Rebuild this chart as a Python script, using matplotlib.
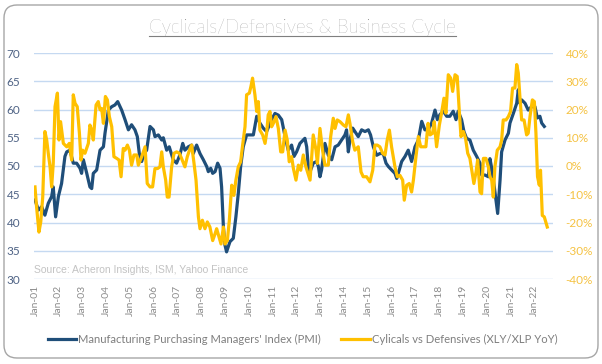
import numpy as np
import matplotlib
matplotlib.use("Agg")
import matplotlib.pyplot as plt
from matplotlib.patches import FancyBboxPatch
from matplotlib.lines import Line2D

plt.rcParams["font.family"] = ["Lato", "DejaVu Sans"]

# --- Data ---
# months since Jan 2001, ISM manufacturing PMI
pmi_month = [0, 1.7, 3.4, 5.0, 6.7, 8.4, 9.2, 10.4, 11.8, 13.4,
             15.1, 16.0, 17.6, 19.3, 21.0, 22.7, 23.5, 24.4, 26.1, 27.7,
             28.6, 29.4, 31.1, 32.8, 34.5, 35.3, 37.0, 38.7, 40.3, 41.7,
             43.7, 45.4, 47.1, 48.7, 50.4, 51.6, 52.6, 53.8, 55.0, 56.3,
             58.0, 59.7, 60.5, 62.2, 63.9, 64.7, 66.4, 67.7, 69.7, 71.4,
             73.1, 74.5, 75.6, 77.3, 79.0, 79.8, 81.5, 83.2, 84.9, 86.6,
             87.4, 88.6, 89.6, 90.8, 92.1, 93.3, 94.1, 95.0, 95.8, 96.6,
             98.3, 100.0, 101.3, 102.5, 103.7, 105.0, 106.7, 108.4, 110.1, 111.8,
             113.4, 115.1, 116.8, 119.3, 121.0, 122.7, 124.4, 126.1, 127.7, 129.4,
             130.6, 131.9, 133.6, 135.3, 136.1, 137.0, 137.8, 138.7, 140.3, 142.0,
             142.9, 143.7, 144.5, 146.2, 147.9, 149.6, 151.3, 152.9, 154.6, 156.3,
             157.1, 158.0, 158.8, 160.2, 161.3, 163.0, 164.7, 166.4, 168.1, 169.2,
             170.6, 172.3, 173.9, 175.6, 177.0, 178.2, 179.8, 181.5, 182.4, 183.2,
             184.9, 186.6, 188.2, 189.9, 191.6, 193.3, 195.0, 196.6, 198.3, 200.0,
             201.7, 202.9, 204.2, 205.9, 207.6, 209.2, 210.9, 212.3, 213.4, 215.1,
             216.3, 217.6, 219.3, 221.0, 222.7, 224.4, 225.2, 226.9, 228.6, 229.4,
             230.3, 231.6, 233.3, 234.5, 235.3, 237.0, 238.7, 239.5, 241.2, 242.9,
             243.7, 244.5, 245.4, 247.1, 248.7, 250.4, 252.1, 253.3, 254.6, 255.5,
             256.8]
pmi_value = [44.0, 42.2, 42.8, 41.3, 43.4, 44.6, 46.3, 41.0, 44.6, 46.9,
             51.7, 52.5, 52.8, 50.5, 50.5, 49.6, 48.7, 51.1, 48.7, 46.3,
             46.0, 48.7, 49.3, 52.8, 53.4, 55.8, 59.9, 60.5, 60.8, 61.4,
             59.9, 58.2, 56.4, 57.3, 56.4, 55.2, 52.2, 50.8, 52.2, 52.8,
             57.0, 56.4, 55.2, 55.5, 54.6, 55.0, 52.8, 53.4, 51.1, 50.5,
             52.0, 54.0, 52.8, 53.4, 53.7, 52.2, 53.7, 52.2, 51.1, 49.9,
             49.0, 49.6, 48.7, 49.0, 50.5, 49.6, 46.3, 39.2, 36.0, 34.8,
             36.6, 37.2, 41.0, 45.1, 49.9, 53.4, 55.5, 55.5, 55.5, 58.8,
             57.6, 56.7, 56.1, 58.2, 59.3, 59.0, 58.2, 55.2, 52.8, 53.7,
             51.7, 52.5, 54.0, 54.6, 54.9, 53.4, 49.9, 49.0, 50.5, 50.8,
             49.9, 48.1, 49.3, 54.0, 51.9, 51.1, 53.4, 53.7, 54.6, 55.5,
             56.4, 52.5, 54.6, 56.7, 56.1, 55.2, 56.4, 56.1, 56.4, 55.5,
             53.4, 51.9, 52.2, 52.2, 50.5, 49.9, 49.3, 48.7, 47.8, 48.7,
             50.8, 51.7, 52.8, 50.8, 53.4, 54.6, 57.9, 56.4, 56.4, 57.6,
             59.9, 58.2, 59.1, 59.7, 58.8, 58.8, 59.7, 58.2, 59.7, 58.2,
             56.1, 54.9, 54.6, 52.8, 51.7, 50.5, 48.4, 48.4, 48.1, 51.3,
             49.6, 46.3, 41.6, 47.5, 52.5, 54.6, 55.8, 57.6, 59.3, 61.1,
             63.5, 61.1, 61.7, 61.1, 59.9, 60.5, 60.5, 58.5, 58.8, 57.6,
             57.0]

# months since Jan 2001, XLY/XLP year-on-year change (%)
cyc_month = [0, 0.8, 2.0, 2.9, 3.9, 5.0, 5.9, 6.7, 7.6, 8.4,
             9.2, 10.1, 11.3, 12.1, 12.9, 14.3, 16.0, 17.3, 18.5, 19.3,
             20.2, 21.3, 22.4, 23.2, 24.0, 25.2, 26.9, 27.7, 28.6, 29.4,
             30.8, 31.9, 32.8, 33.6, 34.5, 35.5, 36.5, 37.5, 38.7, 39.8,
             41.2, 42.4, 43.4, 44.5, 45.4, 46.6, 47.6, 48.7, 49.9, 51.3,
             52.1, 53.8, 55.5, 56.6, 58.0, 59.3, 60.5, 61.8, 63.0, 63.9,
             64.7, 65.9, 66.7, 67.6, 68.9, 70.1, 71.4, 72.8, 73.9, 75.6,
             76.8, 78.2, 79.0, 80.2, 81.2, 82.4, 83.2, 84.4, 85.7, 86.9,
             88.2, 89.6, 90.8, 91.6, 92.8, 93.8, 95.0, 95.8, 97.0, 98.0,
             99.2, 100.3, 101.3, 102.5, 103.7, 104.7, 105.9, 106.7, 108.1, 108.9,
             109.7, 110.9, 111.8, 112.6, 113.4, 114.8, 116.0, 116.8, 117.6, 118.5,
             119.3, 120.2, 121.5, 122.7, 123.9, 124.9, 126.1, 127.2, 128.2, 129.4,
             130.3, 131.6, 132.8, 134.0, 135.3, 136.6, 138.7, 140.3, 141.7, 142.4,
             143.7, 145.0, 146.2, 147.9, 149.1, 150.4, 151.3, 152.4, 153.8, 155.5,
             156.8, 158.0, 158.8, 160.2, 161.3, 163.0, 164.4, 165.5, 167.2, 168.9,
             170.3, 171.4, 172.6, 173.9, 175.3, 176.5, 177.6, 178.7, 179.8, 181.5,
             182.7, 184.0, 185.4, 186.2, 187.4, 188.7, 189.9, 190.8, 192.1, 193.3,
             194.5, 195.8, 197.1, 198.2, 199.2, 200.5, 201.3, 202.5, 203.9, 205.0,
             206.2, 207.2, 208.4, 209.6, 210.6, 211.8, 212.9, 213.9, 214.8, 216.0,
             217.1, 218.2, 219.3, 220.5, 221.3, 222.4, 223.2, 224.4, 225.2, 226.1,
             227.4, 228.6, 229.4, 230.3, 231.1, 231.9, 233.1, 234.5, 235.3, 236.1,
             237.5, 238.7, 239.8, 240.8, 242.0, 242.9, 243.7, 244.5, 245.4, 246.6,
             247.9, 248.7, 249.6, 250.8, 251.8, 252.6, 253.4, 254.3, 254.9, 255.8,
             256.8, 258.3]
cyc_value = [-7.4, -14.5, -23.4, -19.8, -11.0, 12.2, 9.2, 4.5, -0.3, -7.4,
             0.9, 21.0, 25.8, 9.2, 15.7, 8.0, 6.8, 8.0, 2.1, 25.2,
             22.2, 21.0, 11.6, 2.1, 5.6, 4.5, 8.0, 14.5, 12.7, 9.2,
             21.6, 22.8, 19.9, 20.4, 15.1, 24.6, 23.4, 17.5, 13.9, 3.3,
             2.7, 2.1, -3.8, 6.2, 5.6, 7.4, 5.6, 0.3, 3.9, 3.9,
             0.3, 3.3, 6.8, -6.2, -7.4, -7.4, -0.9, -0.9, -0.3, 5.0,
             -0.3, -5.0, -11.0, -11.0, -0.3, 4.5, 5.0, 4.5, 2.7, -0.3,
             3.3, 6.2, 7.4, 0.9, -5.0, -18.0, -22.2, -19.2, -22.2, -19.8,
             -21.6, -26.4, -24.0, -22.2, -25.2, -27.6, -21.6, -27.6, -26.4, -19.2,
             -6.8, -10.4, -5.0, -0.3, 1.5, 7.4, 13.9, 25.2, 25.8, 28.2,
             31.1, 25.2, 19.3, 22.8, 12.7, 11.0, 8.0, 11.6, 18.1, 19.3,
             13.9, 15.1, 17.5, 13.3, 5.0, 5.0, 12.7, 9.2, 1.5, 3.3,
             -0.9, -5.0, 0.3, -1.5, 3.9, -0.3, -5.0, 11.0, 5.6, 0.9,
             13.3, 5.6, 0.3, 0.3, 10.4, 16.9, 13.3, 16.3, 15.7, 14.5,
             13.9, 18.1, 15.1, 8.6, 5.6, 6.8, -2.1, -3.8, -3.8, -5.6,
             -1.5, 7.4, 7.4, 6.8, 4.5, 3.9, 9.2, 12.7, 6.8, -0.3,
             -3.8, -3.3, -5.0, -12.1, -6.8, -6.2, -9.2, -5.0, 3.3, 10.4,
             6.8, 6.8, 6.8, 15.1, 11.0, 11.6, 15.7, 6.8, 14.5, 18.7,
             24.0, 18.7, 32.3, 31.1, 26.4, 32.3, 31.7, 19.9, 10.4, 12.2,
             9.8, 4.5, 2.7, -2.7, -6.2, -2.1, 2.1, -9.2, -9.8, 2.7,
             2.7, -0.3, -3.8, -5.0, -11.0, -0.3, 5.6, 6.8, 9.2, 16.3,
             16.3, 17.5, 19.3, 27.6, 27.6, 35.9, 32.9, 24.6, 16.3, 16.3,
             11.0, 11.6, 17.5, 23.4, 22.8, 11.6, -3.8, -6.8, -1.5, -17.5,
             -18.0, -21.6]

years = list(range(2001, 2023))
year_labels = [f"Jan-{y % 100:02d}" for y in years]
left_ticks = [30, 35, 40, 45, 50, 55, 60, 65, 70]
right_ticks = [-40, -30, -20, -10, 0, 10, 20, 30, 40]

navy = "#1f4e79"
gold = "#ffc000"
grid_c = "#c5d9f1"

# --- Figure ---
W, H = 602, 364
fig = plt.figure(figsize=(W / 100, H / 100), dpi=100)
fig.patch.set_facecolor("white")

border = FancyBboxPatch((0.04, 0.06), 5.94, 3.53,
                        boxstyle="round,pad=0,rounding_size=0.13",
                        transform=fig.dpi_scale_trans, facecolor="white",
                        edgecolor="#a6a6a6", linewidth=1.0, zorder=0)
fig.add_artist(border)

ax = fig.add_axes([34 / W, 1 - 279 / H, (553 - 34) / W, (279 - 53) / H])
ax.set_facecolor("none")
ax2 = ax.twinx()

ax.plot(pmi_month, pmi_value, color=navy, lw=2.3, solid_joinstyle="round",
        label="Manufacturing Purchasing Managers' Index (PMI)")
ax2.plot(cyc_month, cyc_value, color=gold, lw=2.3, solid_joinstyle="round",
         label="Cylicals vs Defensives (XLY/XLP YoY)")

ax.set_ylim(30, 70)
ax.set_yticks(left_ticks)
ax2.set_ylim(-40, 40)
ax2.set_yticks(right_ticks)
ax2.set_yticklabels([f"{v}%" for v in right_ticks])
ax.set_xlim(-0.5, 261.2)
ax.set_xticks([12 * i for i in range(len(years))])
ax.set_xticklabels(year_labels, rotation=90)

ax.grid(axis="y", color=grid_c, lw=1.0)
ax.set_axisbelow(True)
for a in (ax, ax2):
    for s in a.spines.values():
        s.set_visible(False)
ax.tick_params(axis="y", length=0, pad=10, labelsize=8.5, labelcolor="#4f6385")
ax2.tick_params(axis="y", length=0, pad=9, labelsize=8.5, labelcolor="#f5c242")
ax.tick_params(axis="x", length=0, pad=4, labelsize=7.5, labelcolor="#8c8c8c")

fig.text(34 / W, 1 - 270 / H, "Source: Acheron Insights, ISM, Yahoo Finance",
         fontsize=7.5, color="#c3c3c3", ha="left", va="center",
         family=["Liberation Sans", "DejaVu Sans"])

# title with underline just below the baseline
base_y = 1 - 33 / H
title = fig.text(0.502, base_y, "Cyclicals/Defensives & Business Cycle",
                 fontsize=13.5, color="#7f7f7f", ha="center", va="baseline",
                 fontweight="light")
fig.canvas.draw()
bb = title.get_window_extent().transformed(fig.transFigure.inverted())
fig.add_artist(Line2D([bb.x0, bb.x1], [base_y - 2.5 / H] * 2,
                      transform=fig.transFigure, color="#7f7f7f", lw=0.8))

h1, l1 = ax.get_legend_handles_labels()
h2, l2 = ax2.get_legend_handles_labels()
fig.legend(h1 + h2, l1 + l2, loc="center", bbox_to_anchor=(0.503, 1 - 339 / H),
           ncol=2, frameon=False, fontsize=8.1, labelcolor="#7f7f7f",
           handlelength=2.5, handletextpad=0.25, columnspacing=1.8)

fig.savefig("out.png", dpi=100)
